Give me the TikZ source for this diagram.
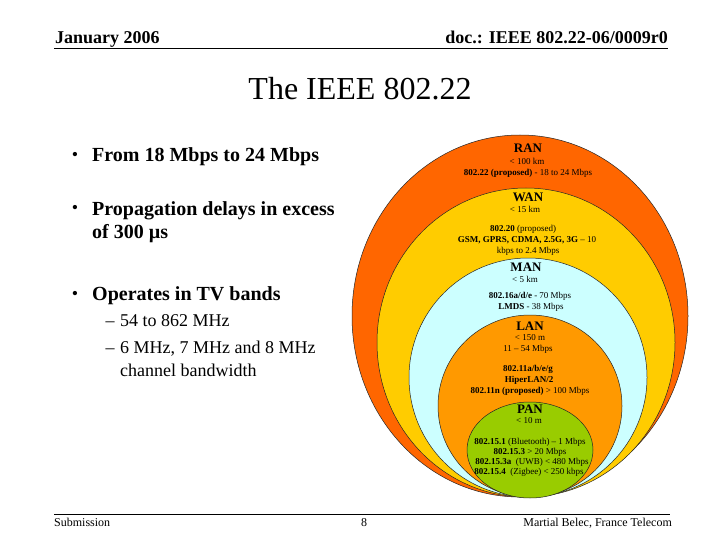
\documentclass[tikz,border=0pt]{standalone}
\usepackage{fontspec}
\setmainfont{Liberation Serif}
\usepackage{tikz}
\usetikzlibrary{shapes,arrows,positioning}

\definecolor{ranorange}{RGB}{255,102,0}
\definecolor{wanyellow}{RGB}{255,204,0}
\definecolor{mancyan}{RGB}{204,255,255}
\definecolor{lanorange}{RGB}{255,153,0}
\definecolor{pangreen}{RGB}{153,204,0}

\tikzset{
  ring/.style={draw=black!85, line width=0.5pt},
  hdrtxt/.style={font=\bfseries\fontsize{18}{18}\selectfont, inner sep=0pt},
  foottxt/.style={font=\fontsize{12}{12}\selectfont, inner sep=0pt},
  bulletdot/.style={font=\fontsize{18}{18}\selectfont, inner sep=0pt, anchor=base},
  bullettxt/.style={font=\bfseries\fontsize{20}{23.3}\selectfont, inner sep=0pt, align=left},
  subtxt/.style={font=\fontsize{18}{23}\selectfont, inner sep=0pt, align=left},
  cirlabel/.style={font=\bfseries\fontsize{13}{13}\selectfont, inner sep=0pt},
  cirtxt/.style={font=\fontsize{9}{10}\selectfont, inner sep=0pt}
}

\begin{document}
\begin{tikzpicture}[x=1pt,y=-1pt]
\fill[white] (0,0) rectangle (720,540);
\useasboundingbox (0,0) rectangle (720,540);

%Header
\node[hdrtxt,anchor=base west] (date) at (55,44) {January 2006};
\node[hdrtxt,anchor=base east] (docid) at (668,44) {doc.: IEEE 802.22-06/0009r0};
\draw[line width=1.2pt] (54,48.6) -- (668,48.6);

%Title
\node[font=\fontsize{32}{32}\selectfont,inner sep=0pt,anchor=base] (title) at (360,100) {The IEEE 802.22};

%Bullets (base of a wrapped node = its last line)
\node[bulletdot] (dot1) at (75,160.5) {\textbullet};
\node[bullettxt,anchor=base west] (rate) at (92,161.5) {From 18 Mbps to 24 Mbps};
\node[bulletdot] (dot2) at (75,214) {\textbullet};
\node[bullettxt,anchor=base west] (delay) at (92,238.3) {Propagation delays in excess\\of 300 µs};
\node[bulletdot] (dot3) at (75,299) {\textbullet};
\node[bullettxt,anchor=base west] (bands) at (92,300) {Operates in TV bands};

%Sub items
\node[subtxt,anchor=base] (dash1) at (110,326.7) {–};
\node[subtxt,anchor=base west] (freq) at (120,326.7) {54 to 862 MHz};
\node[subtxt,anchor=base] (dash2) at (110,353.3) {–};
\node[subtxt,anchor=base west] (chbw) at (120,376.3) {6 MHz, 7 MHz and 8 MHz\\channel bandwidth};

%Rings
\foreach \cx/\cy/\rx/\ry/\col in {520/316/168/181/ranorange, 526/342.5/149/154.5/wanyellow, 528/377.5/119/119.5/mancyan, 530/406/92/91/lanorange, 530/450/63/48/pangreen}
\draw[ring,fill=\col] (\cx,\cy) ellipse [x radius=\rx*1pt, y radius=\ry*1pt];

% RAN
\node[cirlabel] (ran) at (528,148) {RAN};
\node[cirtxt] (ranrng) at (527,161) {< 100 km};
\node[cirtxt] (ranrate) at (528,173) {\textbf{802.22 (proposed)} - 18 to 24 Mbps};

% WAN
\node[cirlabel] (wan) at (528,197) {WAN};
\node[cirtxt] (wanrng) at (525,209) {< 15 km};
\node[cirtxt] (wanstd) at (523,229) {\textbf{802.20} (proposed)};
\node[cirtxt] (wancell) at (527,240) {\textbf{GSM, GPRS, CDMA, 2.5G, 3G} – 10};
\node[cirtxt] (wanrate) at (528,251) {kbps to 2.4 Mbps};

% MAN
\node[cirlabel] (man) at (526,267) {MAN};
\node[cirtxt] (manrng) at (525,279) {< 5 km};
\node[cirtxt] (manstd) at (530,296) {\textbf{802.16a/d/e} - 70 Mbps};
\node[cirtxt] (manlmds) at (531,307) {\textbf{LMDS} - 38 Mbps};

% LAN
\node[cirlabel] (lan) at (530,326) {LAN};
\node[cirtxt] (lanrng) at (530,338) {< 150 m};
\node[cirtxt] (lanrate) at (528,349) {11 – 54 Mbps};
\node[cirtxt] (lanstd) at (528,369) {\textbf{802.11a/b/e/g}};
\node[cirtxt] (lanhiper) at (529,380) {\textbf{HiperLAN/2}};
\node[cirtxt] (lannext) at (530,391) {\textbf{802.11n (proposed)} > 100 Mbps};

% PAN
\node[cirlabel] (pan) at (530,409) {PAN};
\node[cirtxt] (panrng) at (529,421) {< 10 m};
\node[cirtxt] (panbt) at (530,442) {\textbf{802.15.1} (Bluetooth) – 1 Mbps};
\node[cirtxt] (panhr) at (530,452) {\textbf{802.15.3} > 20 Mbps};
\node[cirtxt] (panuwb) at (532,462) {\textbf{802.15.3a}\ \ (UWB) < 480 Mbps};
\node[cirtxt] (panzig) at (529,472) {\textbf{802.15.4}\ \ (Zigbee) < 250 kbps};

%Footer
\draw[line width=0.8pt] (54,514) -- (670,514);
\node[foottxt,anchor=base west] (sub) at (54,526) {Submission};
\node[foottxt,anchor=base] (page) at (364,526) {8};
\node[foottxt,anchor=base east] (author) at (672,526) {Martial Belec, France Telecom};

\end{tikzpicture}
\end{document}
